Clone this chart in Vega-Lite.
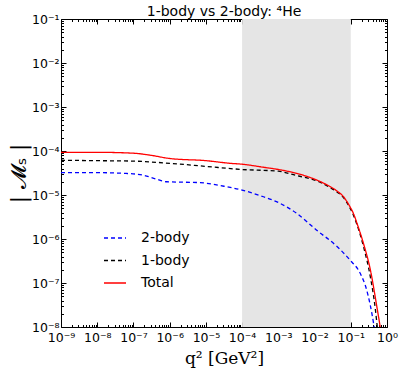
{
  "$schema": "https://vega.github.io/schema/vega-lite/v6.json",
  "width": 326,
  "height": 308,
  "autosize": "none",
  "padding": {"left": 61, "top": 19, "right": 20, "bottom": 59},
  "config": {
    "view": {"stroke": "#000", "strokeWidth": 1},
    "font": "DejaVu Sans",
    "axis": {"grid": false, "domain": false, "tickColor": "#000", "labelColor": "#000", "labelFont": "DejaVu Sans", "labelFontSize": 12.5, "tickWidth": 1, "labelOverlap": false, "labelFlush": false, "titleColor": "#000", "titleFontWeight": "normal"}
  },
  "title": {"text": "1-body vs 2-body: ⁴He", "fontSize": 14, "fontWeight": "normal", "font": "DejaVu Sans", "anchor": "middle", "offset": -6, "color": "#000"},
  "layer": [
    {
      "data": {"values": [{"lo": 0.0001, "hi": 0.1, "ylo": 1e-8, "yhi": 0.1}]},
      "mark": {"type": "rect", "color": "#e5e5e5"},
      "encoding": {
        "x": {"field": "lo", "type": "quantitative", "scale": {"type": "log", "domain": [1e-9, 1]},
          "axis": {"orient": "top", "labels": false, "title": null,
            "values": [1e-9,2e-9,3e-9,4e-9,5e-9,6e-9,7e-9,8e-9,9e-9,1e-8,2e-8,3e-8,4e-8,5e-8,6e-8,7e-8,8e-8,9e-8,1e-7,2e-7,3e-7,4e-7,5e-7,6e-7,7e-7,8e-7,9e-7,1e-6,2e-6,3e-6,4e-6,5e-6,6e-6,7e-6,8e-6,9e-6,1e-5,2e-5,3e-5,4e-5,5e-5,6e-5,7e-5,8e-5,9e-5,1e-4,2e-4,3e-4,4e-4,5e-4,6e-4,7e-4,8e-4,9e-4,1e-3,2e-3,3e-3,4e-3,5e-3,6e-3,7e-3,8e-3,9e-3,1e-2,2e-2,3e-2,4e-2,5e-2,6e-2,7e-2,8e-2,9e-2,0.1,0.2,0.3,0.4,0.5,0.6,0.7,0.8,0.9,1],
            "tickSize": {"condition": {"test": "abs(log(datum.value)/LN10 - round(log(datum.value)/LN10)) < 0.001", "value": -5}, "value": -2.5}}},
        "x2": {"field": "hi"},
        "y": {"field": "ylo", "type": "quantitative", "scale": {"type": "log", "domain": [1e-8, 0.1]},
          "axis": {"orient": "right", "labels": false, "title": null,
            "values": [1e-8,2e-8,3e-8,4e-8,5e-8,6e-8,7e-8,8e-8,9e-8,1e-7,2e-7,3e-7,4e-7,5e-7,6e-7,7e-7,8e-7,9e-7,1e-6,2e-6,3e-6,4e-6,5e-6,6e-6,7e-6,8e-6,9e-6,1e-5,2e-5,3e-5,4e-5,5e-5,6e-5,7e-5,8e-5,9e-5,1e-4,2e-4,3e-4,4e-4,5e-4,6e-4,7e-4,8e-4,9e-4,1e-3,2e-3,3e-3,4e-3,5e-3,6e-3,7e-3,8e-3,9e-3,1e-2,2e-2,3e-2,4e-2,5e-2,6e-2,7e-2,8e-2,9e-2,0.1],
            "tickSize": {"condition": {"test": "abs(log(datum.value)/LN10 - round(log(datum.value)/LN10)) < 0.001", "value": -5}, "value": -2.5}}},
        "y2": {"field": "yhi"}
      }
    },
    {
      "data": {"values": [
        {"q2": 1e-9, "M": 3.24e-5, "series": "2-body"},
        {"q2": 1e-8, "M": 3.22e-5, "series": "2-body"},
        {"q2": 6.31e-8, "M": 3.09e-5, "series": "2-body"},
        {"q2": 1.86e-7, "M": 2.82e-5, "series": "2-body"},
        {"q2": 4.37e-7, "M": 2.29e-5, "series": "2-body"},
        {"q2": 8.32e-7, "M": 2.0e-5, "series": "2-body"},
        {"q2": 6.92e-6, "M": 1.91e-5, "series": "2-body"},
        {"q2": 3.16e-5, "M": 1.58e-5, "series": "2-body"},
        {"q2": 1e-4, "M": 1.29e-5, "series": "2-body"},
        {"q2": 3.89e-4, "M": 9.12e-6, "series": "2-body"},
        {"q2": 1e-3, "M": 6.76e-6, "series": "2-body"},
        {"q2": 3.24e-3, "M": 3.8e-6, "series": "2-body"},
        {"q2": 1.15e-2, "M": 1.58e-6, "series": "2-body"},
        {"q2": 4.17e-2, "M": 6.76e-7, "series": "2-body"},
        {"q2": 9.55e-2, "M": 3.31e-7, "series": "2-body"},
        {"q2": 0.182, "M": 1.66e-7, "series": "2-body"},
        {"q2": 0.275, "M": 6.92e-8, "series": "2-body"},
        {"q2": 0.427, "M": 1.2e-8, "series": "2-body"},
        {"q2": 0.501, "M": 5.0e-9, "series": "2-body"},
        {"q2": 1e-9, "M": 6.17e-5, "series": "1-body"},
        {"q2": 1e-8, "M": 6.03e-5, "series": "1-body"},
        {"q2": 1e-7, "M": 5.89e-5, "series": "1-body"},
        {"q2": 1e-6, "M": 5.25e-5, "series": "1-body"},
        {"q2": 1e-5, "M": 4.47e-5, "series": "1-body"},
        {"q2": 1e-4, "M": 3.8e-5, "series": "1-body"},
        {"q2": 1e-3, "M": 3.47e-5, "series": "1-body"},
        {"q2": 3.24e-3, "M": 2.75e-5, "series": "1-body"},
        {"q2": 1e-2, "M": 2.19e-5, "series": "1-body"},
        {"q2": 2.69e-2, "M": 1.48e-5, "series": "1-body"},
        {"q2": 4.17e-2, "M": 1.17e-5, "series": "1-body"},
        {"q2": 6.31e-2, "M": 8.71e-6, "series": "1-body"},
        {"q2": 9.55e-2, "M": 5.01e-6, "series": "1-body"},
        {"q2": 0.12, "M": 3.39e-6, "series": "1-body"},
        {"q2": 0.148, "M": 2.14e-6, "series": "1-body"},
        {"q2": 0.224, "M": 6.76e-7, "series": "1-body"},
        {"q2": 0.347, "M": 1.38e-7, "series": "1-body"},
        {"q2": 0.479, "M": 2.45e-8, "series": "1-body"},
        {"q2": 0.525, "M": 1.23e-8, "series": "1-body"},
        {"q2": 0.631, "M": 3.16e-9, "series": "1-body"},
        {"q2": 1e-9, "M": 9.33e-5, "series": "Total"},
        {"q2": 1e-8, "M": 9.33e-5, "series": "Total"},
        {"q2": 1e-7, "M": 8.91e-5, "series": "Total"},
        {"q2": 3.16e-7, "M": 7.94e-5, "series": "Total"},
        {"q2": 1e-6, "M": 6.76e-5, "series": "Total"},
        {"q2": 1e-5, "M": 6.03e-5, "series": "Total"},
        {"q2": 4.68e-5, "M": 5.25e-5, "series": "Total"},
        {"q2": 1e-4, "M": 5.01e-5, "series": "Total"},
        {"q2": 3.89e-4, "M": 4.27e-5, "series": "Total"},
        {"q2": 1e-3, "M": 3.8e-5, "series": "Total"},
        {"q2": 3.24e-3, "M": 3.09e-5, "series": "Total"},
        {"q2": 1e-2, "M": 2.29e-5, "series": "Total"},
        {"q2": 2.69e-2, "M": 1.55e-5, "series": "Total"},
        {"q2": 4.17e-2, "M": 1.23e-5, "series": "Total"},
        {"q2": 6.31e-2, "M": 9.12e-6, "series": "Total"},
        {"q2": 9.55e-2, "M": 5.37e-6, "series": "Total"},
        {"q2": 0.12, "M": 3.72e-6, "series": "Total"},
        {"q2": 0.148, "M": 2.29e-6, "series": "Total"},
        {"q2": 0.224, "M": 7.94e-7, "series": "Total"},
        {"q2": 0.347, "M": 2.0e-7, "series": "Total"},
        {"q2": 0.525, "M": 2.88e-8, "series": "Total"},
        {"q2": 0.646, "M": 1.02e-8, "series": "Total"},
        {"q2": 0.794, "M": 3.16e-9, "series": "Total"}
      ]},
      "mark": {"type": "line", "clip": true, "interpolate": "monotone"},
      "encoding": {
        "x": {"field": "q2", "type": "quantitative", "scale": {"type": "log", "domain": [1e-9, 1]},
          "axis": {"orient": "bottom", "title": "q² [GeV²]", "titleFont": "DejaVu Serif", "titleFontSize": 17, "titlePadding": 4, "labelPadding": 9,
            "values": [1e-9,2e-9,3e-9,4e-9,5e-9,6e-9,7e-9,8e-9,9e-9,1e-8,2e-8,3e-8,4e-8,5e-8,6e-8,7e-8,8e-8,9e-8,1e-7,2e-7,3e-7,4e-7,5e-7,6e-7,7e-7,8e-7,9e-7,1e-6,2e-6,3e-6,4e-6,5e-6,6e-6,7e-6,8e-6,9e-6,1e-5,2e-5,3e-5,4e-5,5e-5,6e-5,7e-5,8e-5,9e-5,1e-4,2e-4,3e-4,4e-4,5e-4,6e-4,7e-4,8e-4,9e-4,1e-3,2e-3,3e-3,4e-3,5e-3,6e-3,7e-3,8e-3,9e-3,1e-2,2e-2,3e-2,4e-2,5e-2,6e-2,7e-2,8e-2,9e-2,0.1,0.2,0.3,0.4,0.5,0.6,0.7,0.8,0.9,1],
            "labelExpr": "abs(log(datum.value)/LN10 - round(log(datum.value)/LN10)) < 0.001 ? '10' + (round(log(datum.value)/LN10) < 0 ? '⁻' : '') + ['⁰','¹','²','³','⁴','⁵','⁶','⁷','⁸','⁹'][abs(round(log(datum.value)/LN10))] : ''",
            "tickSize": {"condition": {"test": "abs(log(datum.value)/LN10 - round(log(datum.value)/LN10)) < 0.001", "value": -5}, "value": -2.5}}},
        "y": {"field": "M", "type": "quantitative", "scale": {"type": "log", "domain": [1e-8, 0.1]},
          "axis": {"orient": "left", "title": "| 𝓜ₛ |", "titleFont": "DejaVu Sans", "titleFontSize": 21, "titlePadding": 2, "labelPadding": 7,
            "values": [1e-8,2e-8,3e-8,4e-8,5e-8,6e-8,7e-8,8e-8,9e-8,1e-7,2e-7,3e-7,4e-7,5e-7,6e-7,7e-7,8e-7,9e-7,1e-6,2e-6,3e-6,4e-6,5e-6,6e-6,7e-6,8e-6,9e-6,1e-5,2e-5,3e-5,4e-5,5e-5,6e-5,7e-5,8e-5,9e-5,1e-4,2e-4,3e-4,4e-4,5e-4,6e-4,7e-4,8e-4,9e-4,1e-3,2e-3,3e-3,4e-3,5e-3,6e-3,7e-3,8e-3,9e-3,1e-2,2e-2,3e-2,4e-2,5e-2,6e-2,7e-2,8e-2,9e-2,0.1],
            "labelExpr": "abs(log(datum.value)/LN10 - round(log(datum.value)/LN10)) < 0.001 ? '10' + (round(log(datum.value)/LN10) < 0 ? '⁻' : '') + ['⁰','¹','²','³','⁴','⁵','⁶','⁷','⁸','⁹'][abs(round(log(datum.value)/LN10))] : ''",
            "tickSize": {"condition": {"test": "abs(log(datum.value)/LN10 - round(log(datum.value)/LN10)) < 0.001", "value": -5}, "value": -2.5}}},
        "color": {"field": "series", "type": "nominal",
          "scale": {"domain": ["2-body", "1-body", "Total"], "range": ["#0000ff", "#000000", "#ff0000"]},
          "legend": {"orient": "none", "legendX": 42, "legendY": 207, "title": null, "symbolType": "stroke", "symbolSize": 484, "labelFontSize": 14, "labelFont": "DejaVu Sans", "labelColor": "#000", "labelOffset": 14, "rowPadding": 3.5, "symbolStrokeWidth": 1.5, "padding": 0}},
        "strokeDash": {"field": "series", "type": "nominal",
          "scale": {"domain": ["2-body", "1-body", "Total"], "range": [[4, 3], [4, 3], [1, 0]]},
          "legend": {"orient": "none", "legendX": 42, "legendY": 207, "title": null, "symbolType": "stroke", "symbolSize": 484, "labelFontSize": 14, "labelFont": "DejaVu Sans", "labelColor": "#000", "labelOffset": 14, "rowPadding": 3.5, "symbolStrokeWidth": 1.5, "padding": 0}},
        "strokeWidth": {"field": "series", "type": "nominal",
          "scale": {"domain": ["2-body", "1-body", "Total"], "range": [1.3, 1.3, 2.2]},
          "legend": null}
      }
    }
  ],
  "resolve": {"axis": {"x": "independent", "y": "independent"}}
}
